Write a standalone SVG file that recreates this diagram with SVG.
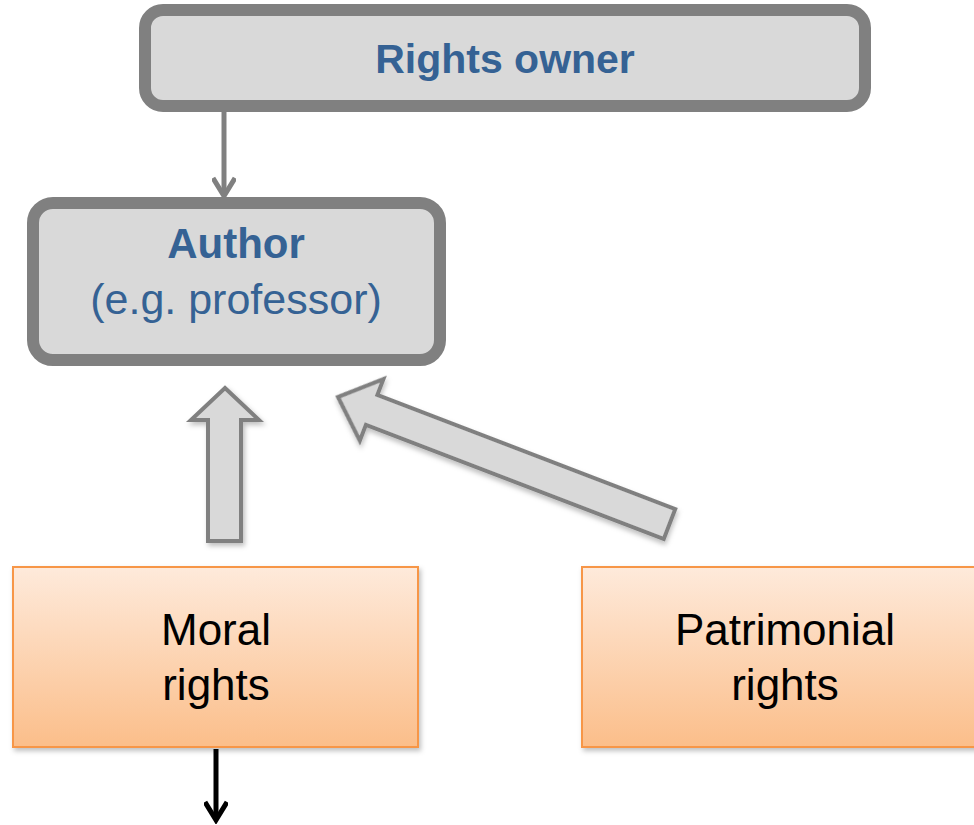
<svg xmlns="http://www.w3.org/2000/svg" width="974" height="825" viewBox="0 0 974 825">
<defs>
<linearGradient id="orangeGrad" x1="0" y1="0" x2="0" y2="1">
<stop offset="0" stop-color="#FEEADB"/>
<stop offset="1" stop-color="#FBBE8A"/>
</linearGradient>
<filter id="shadow" x="-10%" y="-10%" width="130%" height="130%">
<feDropShadow dx="2" dy="3" stdDeviation="2.5" flood-color="#000" flood-opacity="0.25"/>
</filter>
<marker id="chevGray" markerUnits="userSpaceOnUse" viewBox="0 0 24 24" refX="20" refY="12" markerWidth="24" markerHeight="24" orient="auto">
<path d="M2,1 L20,12 L2,23" fill="none" stroke="#808080" stroke-width="5" stroke-linejoin="miter"/>
</marker>
<marker id="chevBlack" markerUnits="userSpaceOnUse" viewBox="0 0 24 24" refX="20" refY="12" markerWidth="24" markerHeight="24" orient="auto">
<path d="M2,1 L20,12 L2,23" fill="none" stroke="#000" stroke-width="5" stroke-linejoin="miter"/>
</marker>
</defs>
<style>
.gbox{fill:#D9D9D9;stroke:#808080;stroke-width:12}
.obox{fill:url(#orangeGrad);stroke:#F79646;stroke-width:2}
.blue{font-family:"Liberation Sans",Arial,sans-serif;fill:#356294;text-anchor:middle}
.blk{font-family:"Liberation Sans",Arial,sans-serif;fill:#000;font-size:44px;text-anchor:middle}
.block{fill:#D9D9D9;stroke:#808080;stroke-width:4;stroke-linejoin:miter}
</style>

<g id="connectors">
<line x1="224" y1="112" x2="224" y2="196" stroke="#808080" stroke-width="5" marker-end="url(#chevGray)"/>
<polygon class="block" filter="url(#shadow)" points="225,388 259,420 241,420 241,541 208,541 208,420 191,420"/>
<polygon class="block" filter="url(#shadow)" transform="translate(338,397) rotate(20.97)" points="0,0 36,-33 36,-16 355,-16 355,16 36,16 36,33"/>
<line x1="216" y1="749" x2="216" y2="820" stroke="#000" stroke-width="5" marker-end="url(#chevBlack)"/>
</g>

<g id="rights-owner">
<rect class="gbox" x="145" y="10" width="720" height="96" rx="18" ry="18"/>
<text class="blue" x="505" y="73" font-size="41" font-weight="bold">Rights owner</text>
</g>

<g id="author">
<rect class="gbox" x="33" y="203" width="407" height="157" rx="20" ry="20"/>
<text class="blue" x="236" y="258" font-size="42" font-weight="bold">Author</text>
<text class="blue" x="236" y="314" font-size="43">(e.g. professor)</text>
</g>

<g id="moral-rights">
<rect class="obox" filter="url(#shadow)" x="13" y="567" width="405" height="180"/>
<text class="blk" x="216" y="645">Moral</text>
<text class="blk" x="216" y="700">rights</text>
</g>

<g id="patrimonial-rights">
<rect class="obox" filter="url(#shadow)" x="582" y="567" width="405" height="180"/>
<text class="blk" x="785" y="645">Patrimonial</text>
<text class="blk" x="785" y="700">rights</text>
</g>
</svg>
